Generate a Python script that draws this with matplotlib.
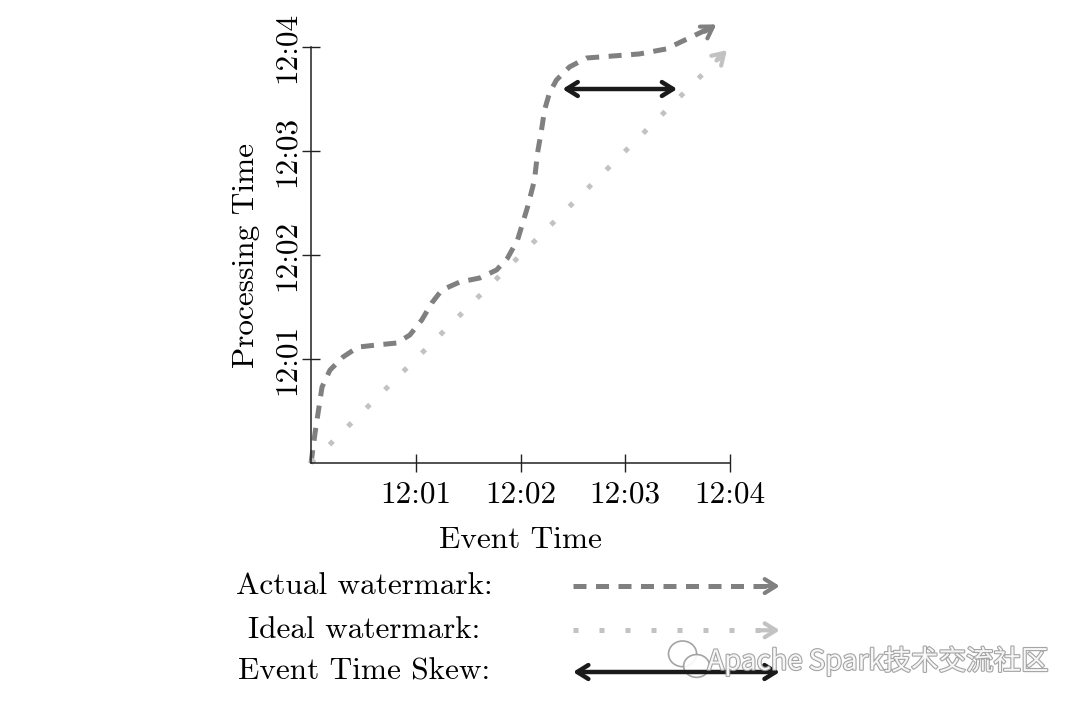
import matplotlib
matplotlib.use("Agg")
import matplotlib.pyplot as plt
import matplotlib.patheffects as pe
from matplotlib.patches import Ellipse

# Minutes after 12:00
actual_x = [0.0, 0.038, 0.105, 0.181, 0.305, 0.448, 0.629, 0.819, 0.943, 1.057,
            1.152, 1.248, 1.419, 1.610, 1.771, 1.876, 1.971, 2.067, 2.133, 2.162,
            2.200, 2.229, 2.276, 2.343, 2.467, 2.629, 2.876, 3.133, 3.390, 3.610,
            3.829]
actual_y = [0.0, 0.288, 0.731, 0.894, 1.019, 1.115, 1.135, 1.154, 1.231, 1.375,
            1.538, 1.663, 1.740, 1.779, 1.856, 1.971, 2.144, 2.462, 2.721, 2.981,
            3.202, 3.394, 3.558, 3.683, 3.808, 3.894, 3.913, 3.933, 3.981, 4.087,
            4.192]
ideal_x = [0.0, 3.97]
ideal_y = [0.0, 3.97]
skew_y = 3.596
skew_x = [2.40, 3.495]

ticks = [1, 2, 3, 4]
tick_labels = ["12:01", "12:02", "12:03", "12:04"]

legend_labels = ["Actual watermark:", "Ideal watermark:", "Event Time Skew:"]

dark = "#808080"
light = "#c2c2c2"
font = "cmr10"
fs = 22.5
head = "->,head_length=0.8,head_width=0.5"
head2 = "<->,head_length=0.8,head_width=0.5"

fig = plt.figure(figsize=(10.8, 7.13), dpi=100)
ax = fig.add_axes([0.288, 0.3506, 0.388, 0.5835])

# actual watermark
ax.plot(actual_x, actual_y, color=dark, lw=3.6, dashes=(2.6, 1.9),
        solid_capstyle="butt", clip_on=False)
ax.annotate("", xy=(actual_x[-1] + 0.04, actual_y[-1] + 0.025),
            xytext=(actual_x[-2] + 0.15, actual_y[-2] + 0.06),
            arrowprops=dict(arrowstyle=head, color=dark, lw=3.0,
                            shrinkA=0, shrinkB=0),
            annotation_clip=False)

# ideal watermark
ax.plot(ideal_x, ideal_y, color=light, lw=3.6, dashes=(1.0, 4.2),
        solid_capstyle="butt", clip_on=False)
ax.annotate("", xy=(ideal_x[1], ideal_y[1]),
            xytext=(ideal_x[1] - 0.1, ideal_y[1] - 0.1),
            arrowprops=dict(arrowstyle=head, color=light, lw=3.0,
                            shrinkA=0, shrinkB=0),
            annotation_clip=False)

# event time skew
ax.annotate("", xy=(skew_x[0], skew_y), xytext=(skew_x[1], skew_y),
            arrowprops=dict(arrowstyle=head2, color="#1a1a1a", lw=3.2,
                            shrinkA=0, shrinkB=0),
            annotation_clip=False)

ax.set_xlim(0, 4)
ax.set_ylim(0, 4)
for s in ["top", "right"]:
    ax.spines[s].set_visible(False)
for s in ["left", "bottom"]:
    ax.spines[s].set_linewidth(1.1)
    ax.spines[s].set_color("#222222")
ax.set_xticks(ticks)
ax.set_yticks(ticks)
ax.set_xticklabels(tick_labels, fontfamily=font, fontsize=fs)
ax.set_yticklabels(tick_labels, fontfamily=font, fontsize=fs, rotation=90,
                   va="center")
ax.tick_params(direction="inout", length=13, width=1.0, color="#222222")
ax.tick_params(axis="x", pad=6)
ax.tick_params(axis="y", pad=1)
ax.set_xlabel("Event Time", fontfamily=font, fontsize=fs, labelpad=13)
ax.set_ylabel("Processing Time", fontfamily=font, fontsize=fs, labelpad=9)
ax.patch.set_visible(False)

# legend below the plot
rows = [0.178, 0.116, 0.0575]
x0, x1 = 0.5306, 0.722
for label, yy in zip(legend_labels, rows):
    fig.text(0.337, yy, label, fontfamily=font, fontsize=fs,
             ha="center", va="center")
fig.add_artist(plt.Line2D([x0, x1 - 0.004], [rows[0]] * 2, color=dark, lw=3.6,
                          dashes=(2.6, 1.9), transform=fig.transFigure))
fig.add_artist(plt.Line2D([x0, x1 - 0.004], [rows[1]] * 2, color=light, lw=3.6,
                          dashes=(1.0, 4.2), transform=fig.transFigure))
for color, yy in [(dark, rows[0]), (light, rows[1])]:
    fig.add_artist(plt.Annotation(
        "", xy=(x1, yy), xytext=(x1 - 0.02, yy), xycoords="figure fraction",
        arrowprops=dict(arrowstyle=head, color=color, lw=3.0,
                        shrinkA=0, shrinkB=0)))
fig.add_artist(plt.Annotation(
    "", xy=(x0, rows[2]), xytext=(x1, rows[2]), xycoords="figure fraction",
    arrowprops=dict(arrowstyle=head2, color="#1a1a1a", lw=3.2,
                    shrinkA=0, shrinkB=0)))

# watermark
wm = fig.text(0.655, 0.073, "Apache Spark技术交流社区", fontsize=19.8,
              family=["Noto Sans CJK SC", "DejaVu Sans"], color="white",
              ha="left", va="center", alpha=0.9)
wm.set_path_effects([pe.withStroke(linewidth=1.6, foreground="#9a9a9a")])
for cx, cy, w, h in [(0.632, 0.083, 0.026, 0.036), (0.645, 0.066, 0.024, 0.032)]:
    fig.add_artist(Ellipse((cx, cy), w, h, transform=fig.transFigure,
                           facecolor="white", edgecolor="#9a9a9a", lw=1.2,
                           alpha=0.9))

fig.savefig("out.png", dpi=100)
